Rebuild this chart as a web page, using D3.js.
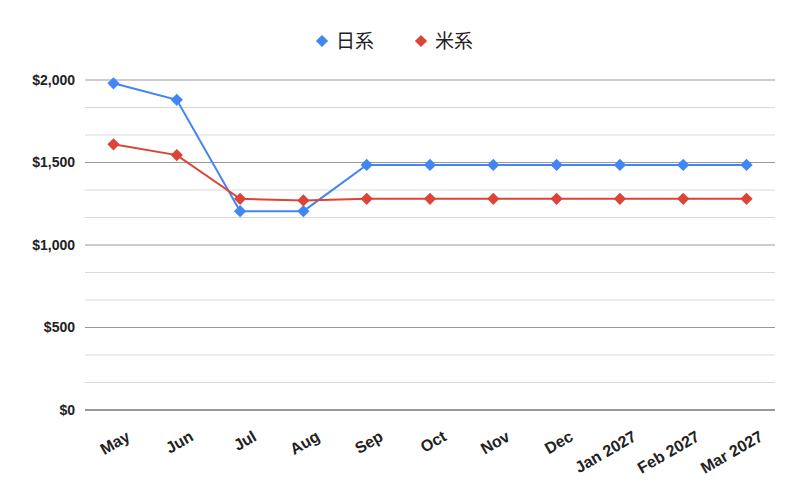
<html>
<head>
<script src="https://cdnjs.cloudflare.com/ajax/libs/d3/7.8.5/d3.min.js"></script>
</head>
<body style="margin:0">
<svg id="chart"></svg>
<script>
    const months = ["May", "Jun", "Jul", "Aug", "Sep", "Oct", "Nov", "Dec", "Jan 2027", "Feb 2027", "Mar 2027"];
    const japan = [1980, 1880, 1205, 1205, 1485, 1485, 1485, 1485, 1485, 1485, 1485];
    const usa = [1610, 1545, 1280, 1270, 1280, 1280, 1280, 1280, 1280, 1280, 1280];
    const seriesNames = ["日系", "米系"];
    const colors = ["#4285f4", "#db4437"];
    const yTicks = [0, 500, 1000, 1500, 2000];

    const width = 800, height = 500;
    const margin = { top: 80, right: 25, bottom: 90, left: 85 };

    const svg = d3.select('#chart').attr('width', width).attr('height', height)
        .style('font-family', '"Liberation Sans", Arial, sans-serif');

    const x = d3.scalePoint().domain(months)
        .range([margin.left, width - margin.right]).padding(0.45);
    const y = d3.scaleLinear().domain([0, 2000])
        .range([height - margin.bottom, margin.top]);

    // minor gridlines every 500/3
    const minor = d3.range(0, 2001, 500 / 3).filter(v => Math.round(v) % 500 !== 0);
    svg.append('g').selectAll('line').data(minor).enter().append('line')
        .attr('x1', margin.left).attr('x2', width - margin.right)
        .attr('y1', d => y(d)).attr('y2', d => y(d))
        .attr('stroke', '#d9d9d9');

    svg.append('g').selectAll('line').data(yTicks).enter().append('line')
        .attr('x1', margin.left).attr('x2', width - margin.right)
        .attr('y1', d => y(d)).attr('y2', d => y(d))
        .attr('stroke', d => d === 0 ? '#333' : '#999');

    svg.append('g').selectAll('text').data(yTicks).enter().append('text')
        .attr('x', margin.left - 10).attr('y', d => y(d)).attr('dy', '0.35em')
        .attr('text-anchor', 'end').attr('font-size', 14).attr('font-weight', 'bold')
        .attr('fill', '#222')
        .text(d => '$' + d3.format(',')(d));

    svg.append('g').selectAll('text').data(months).enter().append('text')
        .attr('transform', d => `translate(${x(d) + 12},${height - margin.bottom + 20}) rotate(-30)`)
        .attr('text-anchor', 'end').attr('font-size', 16).attr('font-weight', 'bold')
        .attr('fill', '#222').attr('dy', '0.7em')
        .text(d => d);

    const line = d3.line().x((d, i) => x(months[i])).y(d => y(d));

    [japan, usa].forEach((vals, k) => {
        svg.append('path').datum(vals).attr('d', line)
            .attr('fill', 'none').attr('stroke', colors[k]).attr('stroke-width', 2);
        svg.append('g').selectAll('path').data(vals).enter().append('path')
            .attr('d', d3.symbol().type(d3.symbolSquare).size(75))
            .attr('transform', (d, i) => `translate(${x(months[i])},${y(d)}) rotate(45)`)
            .attr('fill', colors[k]);
    });

    // legend
    const legend = svg.append('g').attr('transform', 'translate(322,41)');
    seriesNames.forEach((name, k) => {
        const g = legend.append('g').attr('transform', `translate(${k * 99},0)`);
        g.append('path').attr('d', d3.symbol().type(d3.symbolSquare).size(75))
            .attr('transform', 'rotate(45)').attr('fill', colors[k]);
        g.append('text').attr('x', 14).attr('dy', '0.35em')
            .attr('font-size', 19).attr('fill', '#222')
            .style('font-family', '"Noto Sans CJK JP", sans-serif')
            .text(name);
    });
</script>
</body>
</html>
